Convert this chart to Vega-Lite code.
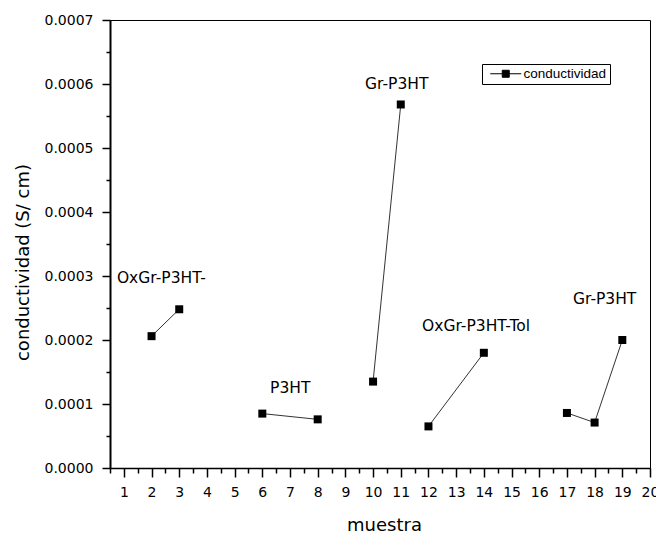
{
  "$schema": "https://vega.github.io/schema/vega-lite/v6.json",
  "width": 540,
  "height": 448,
  "autosize": {"type": "none"},
  "padding": {"left": 110, "top": 20, "right": 6, "bottom": 65},
  "background": "white",
  "config": {
    "font": "DejaVu Sans",
    "view": {"stroke": "#000", "strokeWidth": 1},
    "axis": {
      "labelFont": "DejaVu Sans",
      "labelFontSize": 14,
      "labelColor": "#000",
      "titleFont": "DejaVu Sans",
      "titleFontSize": 18,
      "titleFontWeight": "normal",
      "titleColor": "#000",
      "domainColor": "#000",
      "tickColor": "#000",
      "grid": false
    }
  },
  "datasets": {
    "pts": [
      {"muestra": 2, "cond": 0.000206, "grupo": "a"},
      {"muestra": 3, "cond": 0.000248, "grupo": "a"},
      {"muestra": 6, "cond": 0.000085, "grupo": "b"},
      {"muestra": 8, "cond": 0.000076, "grupo": "b"},
      {"muestra": 10, "cond": 0.000135, "grupo": "c"},
      {"muestra": 11, "cond": 0.000568, "grupo": "c"},
      {"muestra": 12, "cond": 0.000065, "grupo": "d"},
      {"muestra": 14, "cond": 0.000180, "grupo": "d"},
      {"muestra": 17, "cond": 0.000086, "grupo": "e"},
      {"muestra": 18, "cond": 0.000071, "grupo": "e"},
      {"muestra": 19, "cond": 0.000200, "grupo": "e"}
    ],
    "labels": [
      {"x": 0.75, "y": 0.000297, "text": "OxGr-P3HT-"},
      {"x": 6.28, "y": 0.000125, "text": "P3HT"},
      {"x": 9.71, "y": 0.0006, "text": "Gr-P3HT"},
      {"x": 11.77, "y": 0.000222, "text": "OxGr-P3HT-Tol"},
      {"x": 17.22, "y": 0.000264, "text": "Gr-P3HT"}
    ]
  },
  "layer": [
    {
      "data": {"name": "pts"},
      "mark": {"type": "line", "color": "#333", "strokeWidth": 1},
      "encoding": {
        "x": {
          "field": "muestra",
          "type": "quantitative",
          "scale": {"domain": [0.5, 20], "nice": false, "zero": false},
          "axis": {
            "orient": "bottom",
            "title": "muestra",
            "values": [1,2,3,4,5,6,7,8,9,10,11,12,13,14,15,16,17,18,19,20],
            "format": "d",
            "tickSize": 9,
            "tickWidth": 1.5,
            "domainWidth": 1.5,
            "labelPadding": 8,
            "titlePadding": 17,
            "titleX": 274,
            "labelFlush": false,
            "labelOverlap": false
          }
        },
        "y": {
          "field": "cond",
          "type": "quantitative",
          "scale": {"domain": [0, 0.0007], "nice": false},
          "axis": {
            "orient": "left",
            "title": "conductividad (S/ cm)",
            "values": [0, 0.0001, 0.0002, 0.0003, 0.0004, 0.0005, 0.0006, 0.0007],
            "format": ".4f",
            "tickSize": 8,
            "tickWidth": 1.5,
            "domainWidth": 2,
            "labelPadding": 9,
            "titlePadding": 12,
            "titleY": 242,
            "labelFlush": false,
            "labelOverlap": false
          }
        },
        "detail": {"field": "grupo"}
      }
    },
    {
      "data": {"name": "pts"},
      "mark": {"type": "point", "shape": "square", "filled": true, "size": 64, "opacity": 1},
      "encoding": {
        "x": {"field": "muestra", "type": "quantitative", "axis": null},
        "y": {"field": "cond", "type": "quantitative", "axis": null},
        "color": {
          "datum": "conductividad",
          "scale": {"range": ["#000"]},
          "legend": {
            "orient": "none",
            "legendX": 372,
            "legendY": 44,
            "title": null,
            "fillColor": "#fff",
            "strokeColor": "#000",
            "padding": 3,
            "symbolType": "M-3.1,0H3.1M-0.7,-0.7H0.7V0.7H-0.7Z",
            "symbolSize": 100,
            "symbolOffset": 14,
            "symbolStrokeColor": "#000",
            "symbolStrokeWidth": 1,
            "symbolFillColor": "#000",
            "labelFont": "Liberation Sans",
            "labelFontSize": 13.5,
            "labelColor": "#000",
            "labelOffset": 11
          }
        }
      }
    },
    {
      "data": {"name": "labels"},
      "mark": {"type": "text", "align": "left", "baseline": "middle", "font": "DejaVu Sans", "fontSize": 15.5, "color": "#000"},
      "encoding": {
        "x": {
          "field": "x",
          "type": "quantitative",
          "axis": {
            "orient": "bottom",
            "title": null,
            "values": [0.5,1.5,2.5,3.5,4.5,5.5,6.5,7.5,8.5,9.5,10.5,11.5,12.5,13.5,14.5,15.5,16.5,17.5,18.5,19.5],
            "labels": false,
            "domain": false,
            "tickSize": 5,
            "tickWidth": 1.5
          }
        },
        "y": {
          "field": "y",
          "type": "quantitative",
          "axis": {
            "orient": "left",
            "title": null,
            "values": [0.00005, 0.00015, 0.00025, 0.00035, 0.00045, 0.00055, 0.00065],
            "labels": false,
            "domain": false,
            "tickSize": 4,
            "tickWidth": 1.5
          }
        },
        "text": {"field": "text"}
      }
    }
  ],
  "resolve": {"axis": {"x": "independent", "y": "independent"}}
}
